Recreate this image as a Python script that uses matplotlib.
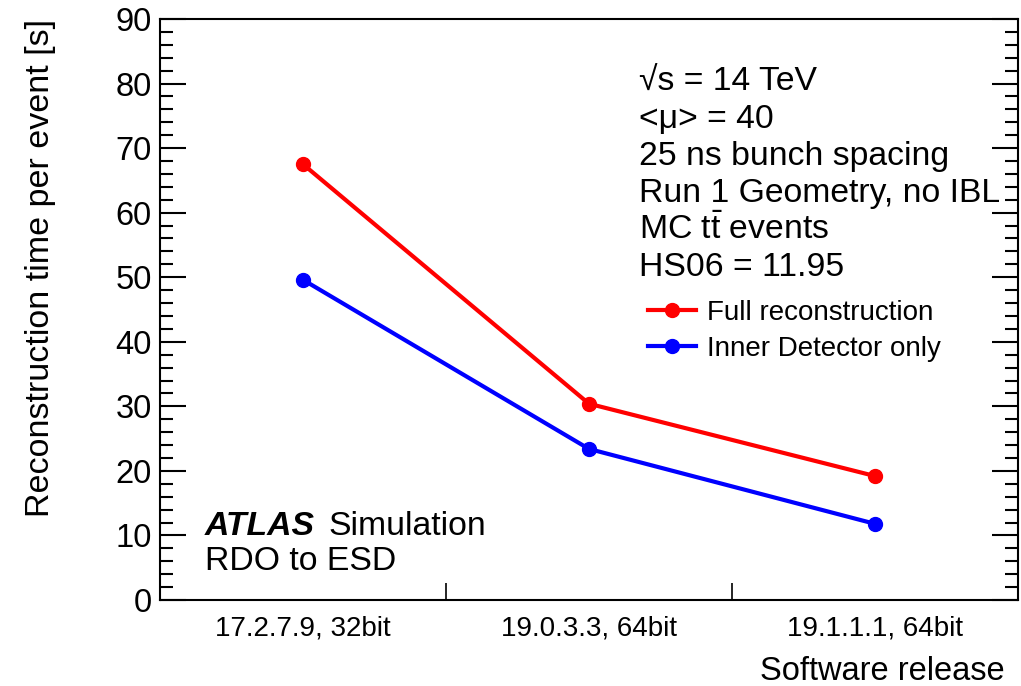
import matplotlib
matplotlib.use('Agg')
import matplotlib.pyplot as plt
from matplotlib.ticker import MultipleLocator, FixedLocator

plt.rcParams['font.family'] = ['Liberation Sans', 'DejaVu Sans']
plt.rcParams['mathtext.fontset'] = 'custom'
plt.rcParams['mathtext.rm'] = 'Liberation Sans'
plt.rcParams['mathtext.it'] = 'Liberation Sans'

# data
releases = ['17.2.7.9, 32bit', '19.0.3.3, 64bit', '19.1.1.1, 64bit']
full_reco = [67.5, 30.4, 19.2]
inner_det = [49.6, 23.4, 11.8]

W, H = 1021, 686
fig = plt.figure(figsize=(W / 100, H / 100), dpi=100)
ax = fig.add_axes([160 / W, 1 - 600 / H, 858 / W, 581 / H])

x = list(range(len(releases)))
ax.plot(x, full_reco, color='#ff0000', lw=3, marker='o', ms=10, label='Full reconstruction')
ax.plot(x, inner_det, color='#0000ff', lw=3, marker='o', ms=10, label='Inner Detector only')

ax.set_xlim(-0.5, len(releases) - 0.5)
ax.set_ylim(0, 90)

for s in ax.spines.values():
    s.set_linewidth(1.5)

# y axis: ticks on both sides, pointing in
ax.yaxis.set_major_locator(MultipleLocator(10))
ax.yaxis.set_minor_locator(MultipleLocator(2))
ax.tick_params(axis='y', which='major', direction='in', length=19, width=1.5,
               right=True, labelsize=23.5, pad=6)
ax.tick_params(axis='y', which='minor', direction='in', length=9.5, width=1.5, right=True)

# x axis: labels at bin centres, ticks at bin edges
ax.set_xticks(x)
ax.set_xticklabels(releases)
ax.xaxis.set_minor_locator(FixedLocator([0.5, 1.5]))
ax.tick_params(axis='x', which='major', length=0, labelsize=20, pad=11)
ax.tick_params(axis='x', which='minor', direction='in', length=12, width=1.2, top=False)

ax.set_xlabel('Software release', fontsize=23.5, loc='right')
ax.xaxis.set_label_coords((1005 - 160) / 858, -56 / 581)
ax.xaxis.label.set_va('top')
ax.set_ylabel('Reconstruction time per event [s]', fontsize=24.5, loc='top')
ax.yaxis.set_label_coords((56 - 160) / 858, 1.0)

# info text
info = ['√s = 14 TeV', '<μ> = 40', '25 ns bunch spacing', 'Run 1 Geometry, no IBL',
        r'MC $\mathrm{t\bar{t}}$ events', 'HS06 = 11.95']
for i, line in enumerate(info):
    fig.text(639 / W, 1 - (91 + 37 * i) / H, line, fontsize=24.3, va='baseline', ha='left')

fig.text(205 / W, 1 - 535 / H, 'ATLAS', fontsize=24.3, va='baseline', ha='left',
         fontweight='bold', fontstyle='italic')
fig.text(328 / W, 1 - 535 / H, 'Simulation', fontsize=24.3, va='baseline', ha='left')
fig.text(205 / W, 1 - 570 / H, 'RDO to ESD', fontsize=24.3, va='baseline', ha='left')

ax.legend(loc='center left', bbox_to_anchor=(648 / W, 1 - 331 / H),
          bbox_transform=fig.transFigure, frameon=False, fontsize=20,
          handlelength=1.73, handletextpad=0.4, labelspacing=0.37,
          borderpad=0, borderaxespad=0)

fig.savefig('out.png', dpi=100)
